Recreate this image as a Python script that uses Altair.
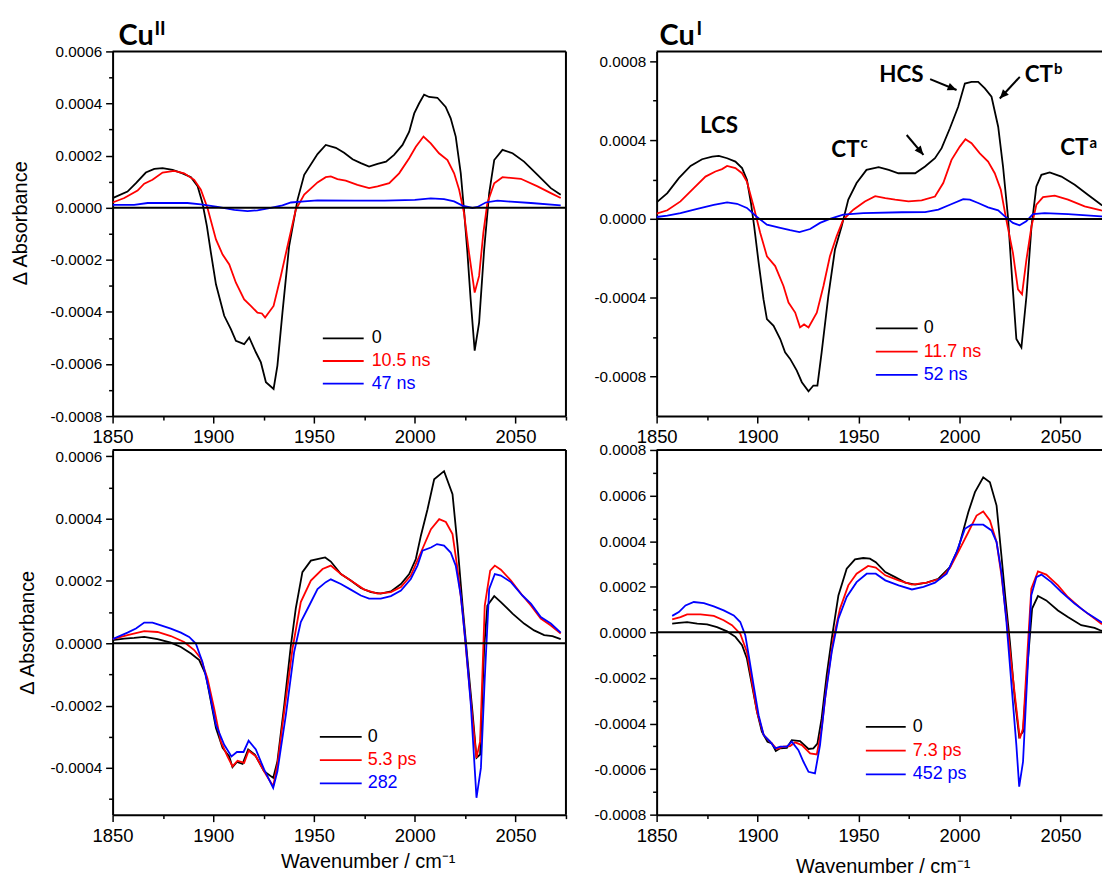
import math
import altair as alt
import pandas as pd

COLORS = ["#000000", "#ff0000", "#0000ff"]

# ---------------- Top-left: Cu(II), ns ----------------
TL_LABELS = ["0", "10.5 ns", "47 ns"]
tl_black = [(1850, 0.37e-4), (1857.4, 0.62e-4), (1861.6, 0.94e-4), (1866.5, 1.35e-4), (1870.7, 1.49e-4),
            (1874.8, 1.52e-4), (1879.8, 1.45e-4), (1884.7, 1.32e-4), (1888.9, 1.17e-4), (1892.2, 0.82e-4),
            (1894.6, 0.18e-4), (1896.8, -0.71e-4), (1898.8, -1.73e-4), (1901.3, -2.94e-4), (1905.4, -4.15e-4),
            (1908.7, -4.66e-4), (1911.2, -5.11e-4), (1915.3, -5.24e-4), (1917.8, -4.98e-4), (1921.1, -5.55e-4),
            (1923.6, -5.94e-4), (1926.1, -6.70e-4), (1929.9, -6.96e-4), (1931.8, -6.06e-4), (1934.3, -4.03e-4),
            (1937.6, -1.48e-4), (1941.8, 0.31e-4), (1945.1, 1.26e-4), (1951.7, 2.06e-4), (1955.8, 2.41e-4),
            (1960.8, 2.30e-4), (1964.9, 2.11e-4), (1969.1, 1.86e-4), (1973.2, 1.71e-4), (1977.3, 1.58e-4),
            (1981.5, 1.68e-4), (1985.7, 1.77e-4), (1989.7, 2.03e-4), (1993.9, 2.41e-4), (1997.2, 2.92e-4),
            (1999.7, 3.62e-4), (2002.1, 4.00e-4), (2004.6, 4.34e-4), (2007.1, 4.25e-4), (2011.2, 4.22e-4),
            (2015.3, 3.87e-4), (2017.8, 3.43e-4), (2020.3, 2.73e-4), (2022.8, 1.32e-4), (2024.4, -0.08e-4),
            (2026.1, -1.73e-4), (2027.7, -3.52e-4), (2029.7, -5.49e-4), (2031.9, -4.41e-4), (2034.4, -1.61e-4),
            (2036.9, 0.56e-4), (2039.4, 1.83e-4), (2043.5, 2.22e-4), (2048.5, 2.09e-4), (2054.2, 1.77e-4),
            (2060.9, 1.26e-4), (2067.5, 0.75e-4), (2072.4, 0.50e-4)]
tl_red = [(1850, 0.20e-4), (1855.8, 0.37e-4), (1862.4, 0.66e-4), (1865.7, 0.92e-4), (1869.8, 1.07e-4),
          (1874.8, 1.35e-4), (1880.6, 1.41e-4), (1885.5, 1.32e-4), (1890.5, 1.07e-4), (1893.8, 0.69e-4),
          (1897.1, -0.01e-4), (1901.3, -1.22e-4), (1904.6, -1.80e-4), (1907.9, -2.18e-4), (1911.2, -2.88e-4),
          (1915.3, -3.52e-4), (1918.6, -3.77e-4), (1921.9, -4.03e-4), (1924.1, -4.06e-4), (1925.7, -4.22e-4),
          (1929.9, -3.77e-4), (1933.5, -2.62e-4), (1936.8, -1.48e-4), (1940.9, -0.08e-4), (1945.1, 0.50e-4),
          (1951.7, 0.97e-4), (1955.8, 1.17e-4), (1958.3, 1.20e-4), (1961.6, 1.10e-4), (1965.7, 1.04e-4),
          (1971.5, 0.88e-4), (1977.3, 0.75e-4), (1981.5, 0.82e-4), (1987.3, 0.94e-4), (1992.2, 1.32e-4),
          (1997.2, 1.90e-4), (2000.5, 2.34e-4), (2004.3, 2.73e-4), (2007.9, 2.47e-4), (2012.0, 2.09e-4),
          (2016.2, 1.83e-4), (2019.5, 1.32e-4), (2022.0, 0.69e-4), (2024.4, -0.20e-4), (2026.9, -1.73e-4),
          (2029.7, -3.26e-4), (2031.9, -2.62e-4), (2034.0, -0.97e-4), (2036.0, 0.18e-4), (2039.4, 0.94e-4),
          (2043.5, 1.17e-4), (2052.6, 1.11e-4), (2060.9, 0.82e-4), (2067.5, 0.56e-4), (2072.4, 0.37e-4)]
tl_blue = [(1850, 0.11e-4), (1860.7, 0.11e-4), (1867.4, 0.18e-4), (1877.3, 0.18e-4), (1887.2, 0.18e-4),
           (1893.8, 0.13e-4), (1902.1, 0.03e-4), (1910.4, -0.08e-4), (1917.0, -0.13e-4), (1921.9, -0.10e-4),
           (1928.5, -0.01e-4), (1934.3, 0.09e-4), (1938.5, 0.20e-4), (1945.1, 0.24e-4), (1951.7, 0.28e-4),
           (1970.0, 0.27e-4), (1985.0, 0.27e-4), (2000.0, 0.30e-4), (2007.9, 0.36e-4), (2014.5, 0.33e-4),
           (2019.5, 0.24e-4), (2023.6, 0.08e-4), (2028.6, -0.01e-4), (2031.1, 0.03e-4), (2035.2, 0.20e-4),
           (2041.0, 0.27e-4), (2047.6, 0.23e-4), (2057.6, 0.18e-4), (2072.4, 0.09e-4)]

# ---------------- Top-right: Cu(I), ns ----------------
TR_LABELS = ["0", "11.7 ns", "52 ns"]
tr_black = [(1850, 0.84e-4), (1855.3, 1.31e-4), (1861.0, 2.07e-4), (1866.8, 2.69e-4), (1872.5, 3.03e-4),
            (1877.5, 3.16e-4), (1880.8, 3.20e-4), (1884.9, 3.08e-4), (1889.0, 2.91e-4), (1892.3, 2.58e-4),
            (1894.7, 1.99e-4), (1896.7, 0.81e-4), (1898.3, -0.37e-4), (1900.5, -2.22e-4), (1902.9, -4.07e-4),
            (1904.6, -5.08e-4), (1907.9, -5.42e-4), (1911.2, -6.09e-4), (1913.6, -6.77e-4), (1916.1, -7.10e-4),
            (1919.4, -7.69e-4), (1921.9, -8.28e-4), (1925.2, -8.74e-4), (1927.6, -8.45e-4), (1929.6, -8.45e-4),
            (1931.7, -6.77e-4), (1935.0, -3.91e-4), (1938.3, -1.55e-4), (1941.6, -0.37e-4), (1944.9, 0.98e-4),
            (1949.0, 1.82e-4), (1953.9, 2.49e-4), (1959.9, 2.63e-4), (1964.9, 2.49e-4), (1969.7, 2.32e-4),
            (1974.7, 2.32e-4), (1978.0, 2.32e-4), (1982.9, 2.66e-4), (1987.8, 3.08e-4), (1991.1, 3.59e-4),
            (1995.2, 4.60e-4), (1999.3, 5.69e-4), (2002.6, 6.87e-4), (2005.9, 6.95e-4), (2009.2, 6.95e-4),
            (2012.5, 6.62e-4), (2015.8, 6.20e-4), (2019.1, 4.68e-4), (2021.5, 2.66e-4), (2024.0, 0.05e-4),
            (2026.0, -3.06e-4), (2028.1, -6.09e-4), (2030.6, -6.52e-4), (2033.1, -3.91e-4), (2035.6, -0.37e-4),
            (2038.0, 1.65e-4), (2040.5, 2.24e-4), (2044.6, 2.36e-4), (2050.4, 2.15e-4), (2057.0, 1.73e-4),
            (2063.5, 1.23e-4), (2070.1, 0.72e-4), (2075.0, 0.45e-4)]
tr_red = [(1850, 0.27e-4), (1855.3, 0.44e-4), (1861.8, 0.89e-4), (1868.4, 1.57e-4), (1874.2, 2.15e-4),
          (1879.1, 2.41e-4), (1882.4, 2.53e-4), (1884.9, 2.69e-4), (1889.0, 2.58e-4), (1892.3, 2.32e-4),
          (1894.7, 1.90e-4), (1898.0, 0.64e-4), (1901.3, -0.71e-4), (1904.6, -1.89e-4), (1908.7, -2.39e-4),
          (1912.8, -3.40e-4), (1915.3, -4.24e-4), (1918.6, -4.75e-4), (1921.0, -5.50e-4), (1923.0, -5.35e-4),
          (1925.2, -5.50e-4), (1929.3, -4.75e-4), (1932.6, -3.40e-4), (1935.8, -1.89e-4), (1939.1, -0.88e-4),
          (1942.4, -0.03e-4), (1947.4, 0.47e-4), (1953.1, 0.89e-4), (1958.2, 1.16e-4), (1963.2, 1.06e-4),
          (1968.1, 0.98e-4), (1974.7, 0.89e-4), (1981.2, 0.94e-4), (1987.8, 1.14e-4), (1991.9, 1.82e-4),
          (1996.0, 3.00e-4), (2000.1, 3.67e-4), (2002.9, 4.04e-4), (2005.9, 3.84e-4), (2010.0, 3.33e-4),
          (2014.1, 2.91e-4), (2017.4, 2.32e-4), (2020.4, 1.48e-4), (2023.1, -0.03e-4), (2026.4, -1.72e-4),
          (2028.9, -3.57e-4), (2030.9, -3.82e-4), (2033.1, -2.05e-4), (2035.6, -0.37e-4), (2038.0, 0.72e-4),
          (2041.3, 1.11e-4), (2047.1, 1.18e-4), (2053.7, 0.98e-4), (2061.9, 0.64e-4), (2070.1, 0.44e-4),
          (2075.0, 0.35e-4)]
tr_blue = [(1850, 0.10e-4), (1855.3, 0.17e-4), (1861.8, 0.30e-4), (1870.1, 0.51e-4), (1878.3, 0.72e-4),
           (1884.9, 0.84e-4), (1889.8, 0.77e-4), (1894.7, 0.56e-4), (1899.7, 0.10e-4), (1904.6, -0.29e-4),
           (1911.2, -0.45e-4), (1916.1, -0.57e-4), (1920.7, -0.67e-4), (1926.0, -0.51e-4), (1930.9, -0.20e-4),
           (1935.8, 0.00e-4), (1942.4, 0.22e-4), (1952.3, 0.30e-4), (1971.4, 0.34e-4), (1982.9, 0.35e-4),
           (1989.5, 0.47e-4), (1995.2, 0.72e-4), (2001.8, 1.01e-4), (2005.1, 0.98e-4), (2009.2, 0.81e-4),
           (2014.1, 0.59e-4), (2019.1, 0.44e-4), (2022.4, 0.13e-4), (2026.4, -0.20e-4), (2029.7, -0.32e-4),
           (2033.0, -0.12e-4), (2036.3, 0.25e-4), (2042.1, 0.30e-4), (2053.7, 0.25e-4), (2070.1, 0.13e-4),
           (2075.0, 0.10e-4)]

# ---------------- Bottom-left: Cu(II), ps ----------------
BL_LABELS = ["0", "5.3 ps", "282"]
bl_black = [(1850, 0.10e-4), (1855.8, 0.15e-4), (1860.7, 0.17e-4), (1865.7, 0.20e-4), (1872.3, 0.13e-4),
            (1878.9, 0.02e-4), (1883.9, -0.12e-4), (1888.9, -0.33e-4), (1893.0, -0.54e-4), (1896.3, -1.02e-4),
            (1898.8, -1.87e-4), (1901.3, -2.72e-4), (1904.6, -3.36e-4), (1907.9, -3.63e-4), (1909.5, -3.98e-4),
            (1911.7, -3.81e-4), (1914.5, -3.87e-4), (1917.3, -3.41e-4), (1920.6, -3.57e-4), (1925.2, -4.11e-4),
            (1929.7, -4.32e-4), (1931.8, -3.79e-4), (1935.2, -1.98e-4), (1938.5, -0.06e-4), (1940.9, 1.11e-4),
            (1944.2, 2.28e-4), (1948.4, 2.65e-4), (1953.3, 2.72e-4), (1955.5, 2.75e-4), (1958.3, 2.62e-4),
            (1963.3, 2.22e-4), (1968.2, 2.01e-4), (1973.2, 1.77e-4), (1978.2, 1.64e-4), (1983.1, 1.59e-4),
            (1988.1, 1.66e-4), (1993.1, 1.90e-4), (1997.2, 2.22e-4), (2000.5, 2.70e-4), (2003.0, 3.45e-4),
            (2006.3, 4.30e-4), (2009.6, 5.26e-4), (2014.5, 5.52e-4), (2018.7, 4.78e-4), (2021.2, 3.13e-4),
            (2023.7, 1.21e-4), (2026.1, -0.49e-4), (2028.6, -2.19e-4), (2030.6, -3.68e-4), (2032.4, -3.57e-4),
            (2034.4, -0.17e-4), (2036.0, 1.21e-4), (2039.4, 1.51e-4), (2042.7, 1.32e-4), (2048.5, 0.95e-4),
            (2054.2, 0.63e-4), (2059.2, 0.41e-4), (2064.2, 0.26e-4), (2068.3, 0.23e-4), (2072.4, 0.13e-4)]
bl_red = [(1850, 0.13e-4), (1857.4, 0.26e-4), (1865.7, 0.39e-4), (1872.3, 0.36e-4), (1878.9, 0.23e-4),
          (1885.5, 0.04e-4), (1890.5, -0.22e-4), (1893.8, -0.49e-4), (1897.1, -1.13e-4), (1900.4, -2.09e-4),
          (1903.7, -3.15e-4), (1907.0, -3.63e-4), (1909.5, -3.95e-4), (1912.0, -3.77e-4), (1915.3, -3.84e-4),
          (1917.5, -3.45e-4), (1921.1, -3.63e-4), (1926.1, -4.21e-4), (1929.7, -4.59e-4), (1931.8, -3.89e-4),
          (1935.2, -2.19e-4), (1939.3, -0.17e-4), (1943.4, 1.32e-4), (1948.4, 2.01e-4), (1954.2, 2.38e-4),
          (1958.3, 2.49e-4), (1963.3, 2.22e-4), (1968.2, 2.01e-4), (1974.9, 1.72e-4), (1981.5, 1.59e-4),
          (1988.1, 1.64e-4), (1993.1, 1.80e-4), (1998.0, 2.17e-4), (2003.0, 2.91e-4), (2008.0, 3.66e-4),
          (2012.1, 3.98e-4), (2015.4, 3.89e-4), (2018.7, 3.50e-4), (2021.2, 2.38e-4), (2023.7, 1.00e-4),
          (2026.1, -0.70e-4), (2028.6, -2.40e-4), (2030.6, -3.68e-4), (2032.4, -3.15e-4), (2034.7, 1.21e-4),
          (2037.4, 2.33e-4), (2039.7, 2.49e-4), (2042.7, 2.36e-4), (2047.7, 2.01e-4), (2053.4, 1.53e-4),
          (2057.6, 1.21e-4), (2062.5, 0.79e-4), (2067.5, 0.57e-4), (2072.4, 0.31e-4)]
bl_blue = [(1850, 0.13e-4), (1857.4, 0.34e-4), (1861.6, 0.47e-4), (1865.7, 0.66e-4), (1869.8, 0.66e-4),
           (1874.0, 0.57e-4), (1878.9, 0.47e-4), (1883.9, 0.34e-4), (1888.0, 0.20e-4), (1891.3, -0.01e-4),
           (1894.6, -0.60e-4), (1898.0, -1.55e-4), (1901.3, -2.62e-4), (1905.4, -3.26e-4), (1909.0, -3.63e-4),
           (1911.7, -3.49e-4), (1915.0, -3.49e-4), (1917.5, -3.13e-4), (1921.1, -3.41e-4), (1925.2, -4.05e-4),
           (1929.7, -4.64e-4), (1931.8, -4.11e-4), (1936.0, -2.30e-4), (1940.1, -0.28e-4), (1943.4, 0.68e-4),
           (1947.6, 1.21e-4), (1951.7, 1.74e-4), (1955.8, 1.96e-4), (1958.3, 2.05e-4), (1963.3, 1.90e-4),
           (1968.2, 1.72e-4), (1973.2, 1.53e-4), (1977.3, 1.43e-4), (1983.1, 1.43e-4), (1988.1, 1.51e-4),
           (1993.1, 1.69e-4), (1998.0, 2.06e-4), (2001.3, 2.49e-4), (2003.8, 2.97e-4), (2008.0, 3.07e-4),
           (2011.0, 3.18e-4), (2014.5, 3.13e-4), (2017.8, 2.91e-4), (2020.3, 2.49e-4), (2022.8, 1.53e-4),
           (2025.3, -0.06e-4), (2027.8, -1.98e-4), (2030.6, -4.96e-4), (2032.8, -4.00e-4), (2034.7, -1.13e-4),
           (2036.9, 1.74e-4), (2039.7, 2.22e-4), (2042.7, 2.17e-4), (2047.7, 1.96e-4), (2053.4, 1.53e-4),
           (2057.6, 1.27e-4), (2062.5, 0.84e-4), (2067.5, 0.63e-4), (2072.4, 0.34e-4)]

# ---------------- Bottom-right: Cu(I), ps ----------------
BR_LABELS = ["0", "7.3 ps", "452 ps"]
br_black = [(1857.7, 0.38e-4), (1861.0, 0.41e-4), (1865.1, 0.45e-4), (1870.1, 0.38e-4), (1875.0, 0.35e-4),
            (1879.9, 0.23e-4), (1884.9, 0.04e-4), (1889.0, -0.20e-4), (1892.3, -0.57e-4), (1894.7, -1.15e-4),
            (1897.2, -2.32e-4), (1899.7, -3.49e-4), (1902.1, -4.36e-4), (1904.9, -4.80e-4), (1907.1, -4.88e-4),
            (1909.0, -5.21e-4), (1911.2, -5.09e-4), (1914.5, -5.07e-4), (1916.9, -4.73e-4), (1921.0, -4.77e-4),
            (1925.2, -5.12e-4), (1927.6, -5.09e-4), (1929.6, -4.88e-4), (1931.7, -3.78e-4), (1934.2, -1.88e-4),
            (1936.7, -0.28e-4), (1940.0, 1.62e-4), (1944.1, 2.79e-4), (1948.2, 3.20e-4), (1952.3, 3.26e-4),
            (1955.6, 3.23e-4), (1958.5, 3.08e-4), (1963.2, 2.64e-4), (1968.1, 2.42e-4), (1973.1, 2.18e-4),
            (1978.0, 2.09e-4), (1983.7, 2.18e-4), (1989.5, 2.35e-4), (1995.2, 2.86e-4), (1999.3, 3.66e-4),
            (2004.3, 5.27e-4), (2007.6, 6.15e-4), (2011.7, 6.80e-4), (2015.0, 6.58e-4), (2018.3, 5.56e-4),
            (2020.7, 3.37e-4), (2022.7, 1.47e-4), (2024.9, -0.42e-4), (2027.3, -2.91e-4), (2029.5, -4.58e-4),
            (2031.4, -4.36e-4), (2033.6, -1.45e-4), (2035.9, 1.04e-4), (2038.8, 1.59e-4), (2042.9, 1.40e-4),
            (2048.7, 0.96e-4), (2053.6, 0.67e-4), (2060.2, 0.31e-4), (2066.8, 0.19e-4), (2070.1, 0.07e-4),
            (2075.0, 0.03e-4)]
br_red = [(1857.7, 0.57e-4), (1861.8, 0.67e-4), (1865.1, 0.79e-4), (1871.7, 0.79e-4), (1878.3, 0.72e-4),
          (1883.2, 0.53e-4), (1887.3, 0.31e-4), (1891.4, -0.06e-4), (1894.7, -0.86e-4), (1897.2, -2.18e-4),
          (1899.7, -3.49e-4), (1903.0, -4.51e-4), (1907.1, -4.88e-4), (1909.5, -5.12e-4), (1912.8, -5.02e-4),
          (1916.1, -4.99e-4), (1918.6, -4.83e-4), (1921.9, -4.95e-4), (1926.0, -5.31e-4), (1929.3, -5.36e-4),
          (1931.7, -4.22e-4), (1934.2, -2.32e-4), (1937.5, -0.28e-4), (1940.8, 1.04e-4), (1944.9, 2.06e-4),
          (1949.0, 2.57e-4), (1954.7, 2.91e-4), (1958.5, 2.84e-4), (1963.2, 2.50e-4), (1969.8, 2.28e-4),
          (1976.4, 2.09e-4), (1983.7, 2.18e-4), (1990.3, 2.35e-4), (1995.2, 2.82e-4), (2000.1, 3.66e-4),
          (2004.3, 4.39e-4), (2008.4, 5.12e-4), (2011.7, 5.30e-4), (2015.0, 4.91e-4), (2018.3, 3.96e-4),
          (2020.7, 2.50e-4), (2023.2, 0.60e-4), (2025.7, -1.45e-4), (2028.1, -3.34e-4), (2029.8, -4.66e-4),
          (2031.4, -4.22e-4), (2033.6, -0.86e-4), (2035.5, 1.91e-4), (2038.8, 2.67e-4), (2042.9, 2.53e-4),
          (2048.7, 2.06e-4), (2053.6, 1.55e-4), (2060.2, 1.04e-4), (2066.8, 0.60e-4), (2070.1, 0.38e-4),
          (2075.0, 0.25e-4)]
br_blue = [(1857.7, 0.72e-4), (1861.0, 0.89e-4), (1864.3, 1.18e-4), (1868.4, 1.33e-4), (1873.4, 1.28e-4),
           (1878.3, 1.14e-4), (1883.2, 0.96e-4), (1888.2, 0.74e-4), (1891.4, 0.45e-4), (1893.9, -0.13e-4),
           (1895.6, -1.01e-4), (1898.0, -2.32e-4), (1900.5, -3.64e-4), (1903.0, -4.51e-4), (1906.2, -4.80e-4),
           (1908.7, -5.09e-4), (1911.2, -5.02e-4), (1914.5, -5.02e-4), (1916.9, -4.80e-4), (1920.2, -5.17e-4),
           (1922.7, -5.68e-4), (1925.2, -6.12e-4), (1928.4, -6.19e-4), (1930.9, -4.95e-4), (1933.4, -2.91e-4),
           (1936.7, -0.86e-4), (1940.0, 0.60e-4), (1944.1, 1.55e-4), (1949.0, 2.20e-4), (1954.0, 2.57e-4),
           (1958.5, 2.57e-4), (1963.2, 2.28e-4), (1969.8, 2.06e-4), (1976.4, 1.88e-4), (1982.1, 1.99e-4),
           (1987.8, 2.18e-4), (1993.6, 2.57e-4), (1998.5, 3.52e-4), (2002.6, 4.54e-4), (2005.9, 4.72e-4),
           (2011.7, 4.72e-4), (2015.8, 4.47e-4), (2018.3, 3.96e-4), (2020.7, 2.64e-4), (2023.2, 0.45e-4),
           (2025.7, -2.32e-4), (2028.1, -4.95e-4), (2029.5, -6.77e-4), (2031.4, -5.68e-4), (2033.6, -1.74e-4),
           (2035.5, 1.62e-4), (2038.0, 2.42e-4), (2040.5, 2.53e-4), (2045.4, 2.20e-4), (2050.3, 1.77e-4),
           (2056.9, 1.26e-4), (2063.5, 0.82e-4), (2070.1, 0.45e-4), (2075.0, 0.33e-4)]

# ---------------- Annotations (top-right panel, data coordinates) ----------------
ANN_BIG_TEXT = ["LCS", "HCS"]
ANN_BIG_WN = [1880.9, 1971.2]
ANN_BIG_VAL = [4.38e-4, 6.95e-4]
ANN_CT_WN = [1950.5, 2046.2, 2063.8]
ANN_CT_VAL = [3.13e-4, 6.95e-4, 3.25e-4]
ANN_SUP_TEXT = ["c", "b", "a"]
ANN_SUP_VAL = [3.62e-4, 7.37e-4, 3.62e-4]
ARROW_X1 = [1985.4, 2029.8, 1973.8]
ARROW_Y1 = [7.09e-4, 7.21e-4, 4.26e-4]
ARROW_X2 = [1998.5, 2019.9, 1982.1]
ARROW_Y2 = [6.54e-4, 6.11e-4, 3.25e-4]

LABEL_FONT = "Liberation Sans"
BOLD_FONT = "Lato"
LINE_W = 1.8
ONE = pd.DataFrame({"k": [0]})


def build_df(labels, series):
    rows = []
    for lab, pts in zip(labels, series):
        for wn, v in pts:
            rows.append({"wn": wn, "val": v, "series": lab})
    return pd.DataFrame(rows)


def tick_list(lo, hi, step):
    n = int(round((hi - lo) / step))
    return [round(lo + i * step, 6) for i in range(n + 1)]


def panel(df, labels, W, H, xdom, ydom, xvals, yvals, ymod, xtitle, ytitle, legend,
          right_frame, title_main, title_sup, title_pos, extra=None):
    xs = alt.Scale(domain=xdom, nice=False, zero=False)
    ys = alt.Scale(domain=ydom, nice=False, zero=False)
    cs = alt.Scale(domain=labels, range=COLORS)

    xkw = dict(values=xvals, format="d",
               labelExpr="datum.value % 50 == 0 ? datum.label : ''",
               tickSize={"condition": {"test": "datum.value % 50 != 0", "value": 4}, "value": 7},
               labelPadding=5, labelFontSize=18.5, labelFlush=False, labelOverlap=False, grid=False)
    if xtitle is not None:
        xkw.update(title="Wavenumber / cm\u207b\u00b9", titleX=xtitle[0], titleY=xtitle[1],
                   titleAlign="center", titleBaseline="middle", titleFontSize=20)
    else:
        xkw.update(title=None)
    ykw = dict(values=yvals,
               labelExpr=("abs(round(datum.value*10000)) %% %d == 0 ? "
                          "replace(format(datum.value, '.4f'), '\u2212', '-') : ''") % ymod,
               tickSize={"condition": {"test": "abs(round(datum.value*10000)) %% %d != 0" % ymod, "value": 4},
                         "value": 7},
               labelPadding=4, labelFontSize=15.3, labelFlush=False, labelOverlap=False, grid=False)
    if ytitle is not None:
        ykw.update(title="\u0394 Absorbance", titleX=ytitle[0], titleY=ytitle[1], titleAngle=270,
                   titleAlign="center", titleBaseline="middle", titleFontSize=20)
    else:
        ykw.update(title=None)
    xaxis = alt.Axis(**xkw)
    yaxis = alt.Axis(**ykw)

    lines = alt.Chart(df).mark_line(strokeWidth=LINE_W, clip=True).encode(
        x=alt.X("wn:Q", scale=xs, axis=xaxis),
        y=alt.Y("val:Q", scale=ys, axis=yaxis),
        color=alt.Color("series:N", scale=cs, legend=None),
    )
    zero = alt.Chart(pd.DataFrame({"val": [0.0]})).mark_rule(color="black", strokeWidth=2).encode(
        y=alt.Y("val:Q", scale=ys, axis=yaxis))
    layers = [lines, zero]
    layers.append(alt.Chart(ONE).mark_rule(color="black", strokeWidth=2).encode(
        x=alt.value(0), x2=alt.value(W), y=alt.value(0)))
    if right_frame:
        layers.append(alt.Chart(ONE).mark_rule(color="black", strokeWidth=2).encode(
            x=alt.value(W), y=alt.value(0), y2=alt.value(H)))

    # in-plot legend, one row per series
    x0, x1, xt, y0, step = legend
    for i, lab in enumerate(labels):
        yy = y0 + i * step
        layers.append(alt.Chart(ONE).mark_rule(strokeWidth=LINE_W, color=COLORS[i]).encode(
            x=alt.value(x0), x2=alt.value(x1), y=alt.value(yy)))
        layers.append(alt.Chart(ONE).mark_text(align="left", baseline="middle", font=LABEL_FONT,
                                               fontSize=18, color=COLORS[i], text=lab).encode(
            x=alt.value(xt), y=alt.value(yy)))

    # panel title (Cu with superscript oxidation state)
    if title_main:
        tx, ty, sx, sy = title_pos
        layers.append(alt.Chart(ONE).mark_text(align="left", baseline="alphabetic", font=BOLD_FONT,
                                               fontWeight="bold", fontSize=29, color="black", text=title_main)
                      .encode(x=alt.value(tx), y=alt.value(ty)))
        layers.append(alt.Chart(ONE).mark_text(align="left", baseline="alphabetic", font=BOLD_FONT,
                                               fontWeight="bold", fontSize=19, color="black", text=title_sup)
                      .encode(x=alt.value(sx), y=alt.value(sy)))
    if extra is not None:
        layers.extend(extra(xs, ys, xaxis, yaxis, W, H, xdom, ydom))
    return alt.layer(*layers).properties(width=W, height=H)


def tr_annotations(xs, ys, xaxis, yaxis, W, H, xdom, ydom):
    out = []
    big = pd.DataFrame({"t": ANN_BIG_TEXT, "wn": ANN_BIG_WN, "val": ANN_BIG_VAL})
    out.append(alt.Chart(big).mark_text(align="center", baseline="alphabetic", font=BOLD_FONT,
                                        fontWeight="bold", fontSize=22.5, color="black").encode(
        x=alt.X("wn:Q", scale=xs, axis=xaxis), y=alt.Y("val:Q", scale=ys, axis=yaxis), text="t:N"))
    ct = pd.DataFrame({"t": ["CT"] * 3, "wn": ANN_CT_WN, "val": ANN_CT_VAL})
    out.append(alt.Chart(ct).mark_text(align="right", baseline="alphabetic", font=BOLD_FONT,
                                       fontWeight="bold", fontSize=22.5, color="black").encode(
        x=alt.X("wn:Q", scale=xs, axis=xaxis), y=alt.Y("val:Q", scale=ys, axis=yaxis), text="t:N"))
    sup = pd.DataFrame({"t": ANN_SUP_TEXT, "wn": ANN_CT_WN, "val": ANN_SUP_VAL})
    out.append(alt.Chart(sup).mark_text(align="left", baseline="alphabetic", font=BOLD_FONT, dx=1,
                                        fontWeight="bold", fontSize=15, color="black").encode(
        x=alt.X("wn:Q", scale=xs, axis=xaxis), y=alt.Y("val:Q", scale=ys, axis=yaxis), text="t:N"))
    # arrows
    kx = W / (xdom[1] - xdom[0])
    ky = H / (ydom[1] - ydom[0])
    angs = []
    for a, b, c, d in zip(ARROW_X1, ARROW_Y1, ARROW_X2, ARROW_Y2):
        dx = (c - a) * kx
        dy = -(d - b) * ky
        angs.append(math.degrees(math.atan2(dx, -dy)) % 360)
    arr = pd.DataFrame({"x1": ARROW_X1, "y1": ARROW_Y1, "x2": ARROW_X2, "y2": ARROW_Y2, "ang": angs})
    out.append(alt.Chart(arr).mark_rule(color="black", strokeWidth=2).encode(
        x=alt.X("x1:Q", scale=xs, axis=xaxis), x2="x2:Q",
        y=alt.Y("y1:Q", scale=ys, axis=yaxis), y2="y2:Q"))
    out.append(alt.Chart(arr).mark_point(shape="M0,0L-0.8,1.8L0.8,1.8Z", filled=True, size=100,
                                         color="black", opacity=1).encode(
        x=alt.X("x2:Q", scale=xs, axis=xaxis), y=alt.Y("y2:Q", scale=ys, axis=yaxis),
        angle=alt.Angle("ang:Q", scale=None)))
    return out


LW, RW, H = 455, 447, 366
XL = [1850, 2075]
XR = [1850, 2070.5]

tl = panel(build_df(TL_LABELS, [tl_black, tl_red, tl_blue]), TL_LABELS, LW, H, XL, [-0.0008, 0.0006],
           tick_list(1850, 2075, 25), tick_list(-0.0008, 0.0006, 0.0001), 2,
           None, (-92, 172), (211, 252, 260, 288, 22.7), True, "Cu", "II", (6, -6, 42, -16))
tr = panel(build_df(TR_LABELS, [tr_black, tr_red, tr_blue]), TR_LABELS, RW, H, XR, [-0.001, 0.00085],
           tick_list(1850, 2050, 25), tick_list(-0.0008, 0.0008, 0.0002), 4,
           None, None, (220, 262, 268, 278, 23.3), False, "Cu", "I", (3, -6, 40, -16),
           extra=tr_annotations)
bl = panel(build_df(BL_LABELS, [bl_black, bl_red, bl_blue]), BL_LABELS, LW, H, XL, [-0.00055, 0.00062],
           tick_list(1850, 2075, 25), tick_list(-0.0005, 0.0006, 0.0001), 2,
           (256, 47), (-85, 183), (208, 250, 256, 288, 23.3), True, "", "", (0, 0, 0, 0))
br = panel(build_df(BR_LABELS, [br_black, br_red, br_blue]), BR_LABELS, RW, H, XR, [-0.0008, 0.0008],
           tick_list(1850, 2050, 25), tick_list(-0.0008, 0.0008, 0.0001), 2,
           (227, 52), None, (210, 250, 257, 278, 23.8), False, "", "", (0, 0, 0, 0))

chart = alt.concat(tl, tr, bl, br, columns=2, spacing={"row": 34, "column": 91}, bounds="flush").resolve_scale(
    x="independent", y="independent", color="independent"
).properties(
    padding={"left": 10, "top": 18, "right": 0, "bottom": 0}, background="white"
).configure_view(stroke="transparent").configure_axis(
    labelFont=LABEL_FONT, titleFont=LABEL_FONT, labelColor="black", titleColor="black",
    titleFontWeight="normal", domainColor="black", domainWidth=2, tickColor="black", tickWidth=1.5
)

chart.save("out.html", embed_options={"renderer": "svg", "actions": False})
